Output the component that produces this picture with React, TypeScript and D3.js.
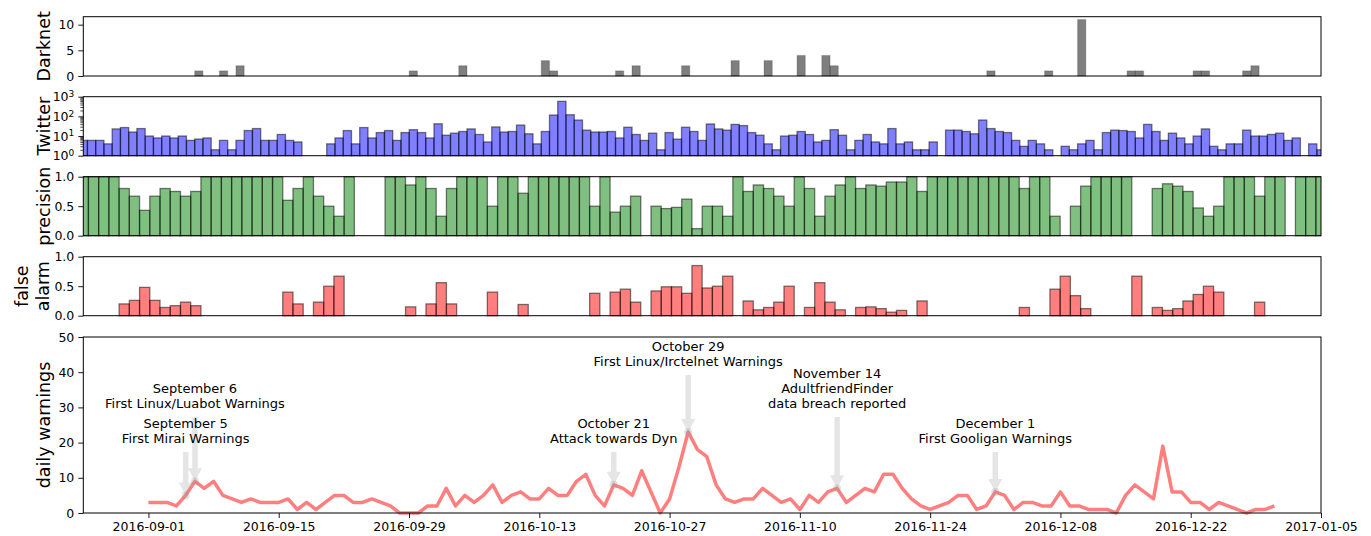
import React, { useEffect, useRef } from "react";
import * as d3 from "d3";

// ---- data ----
// darknet counts, one bar per slot (0..150), null = no bar
const darknet: (number | null)[] = [
  0, 0, 0, 0, 0, 0, 0, 0, 0, 0,
  0, 0, 0, 0, 1, 0, 0, 1, 0, 2,
  0, 0, 0, 0, 0, 0, 0, null, null, null,
  0, 0, 0, 0, 0, 0, 0, 0, 0, 0,
  1, 0, 0, 0, 0, 0, 2, 0, 0, 0,
  0, 0, 0, 0, 0, 0, 3, 1, 0, 0,
  0, 0, 0, 0, 0, 1, 0, 2, 0, 0,
  0, 0, 0, 2, 0, 0, 0, 0, 0, 3,
  0, 0, 0, 3, 0, 0, 0, 4, 0, 0,
  4, 2, 0, 0, 0, 0, 0, 0, 0, 0,
  0, 0, 0, 0, null, 0, 0, 0, 0, 0,
  1, 0, 0, 0, 0, 0, 0, 1, null, 0,
  0, 11, 0, 0, 0, 0, 0, 1, 1, 0,
  0, 0, 0, 0, 0, 1, 1, 0, 0, 0,
  0, 1, 2, 0, 0, 0, 0, 0, null, 0,
  0,
];

// twitter mentions (log scale), slots 0..150
const twitter: number[] = [
  6, 6, 6, 4, 23, 27, 16, 24, 10, 8,
  10, 8, 10, 6, 7, 8, 2, 6, 2, 6,
  19, 24, 6, 6, 12, 6, 5, 1, 1, 1,
  4, 8, 19, 4, 27, 8, 15, 19, 6, 15,
  21, 15, 8, 42, 11, 14, 17, 23, 12, 5,
  29, 16, 17, 36, 13, 4, 17, 117, 580, 121,
  65, 20, 16, 16, 17, 8, 28, 12, 6, 14,
  2, 15, 7, 28, 17, 6, 41, 23, 20, 39,
  34, 15, 11, 4, 2, 10, 11, 17, 12, 5,
  6, 21, 11, 2, 6, 12, 5, 4, 24, 4,
  5, 2, 2, 5, 1, 20, 20, 17, 13, 65,
  24, 17, 15, 6, 3, 6, 4, 2, 1, 3,
  2, 4, 6, 2, 15, 20, 19, 17, 8, 39,
  17, 6, 14, 8, 4, 10, 23, 3, 2, 4,
  4, 20, 10, 10, 12, 14, 6, 8, 1, 4,
  2,
];

// daily precision, 2016-09-01 .. 2016-12-31
const precision: (number | null)[] = [
  1, 1, 1, 1, 0.8, 0.67, 0.43, 0.67, 0.8, 0.75,
  0.67, 0.75, 1, 1, 1, 1, 1, 1, 1, 1,
  0.6, 0.8, 1, 0.67, 0.5, 0.33, 1, null, null, null,
  1, 1, 0.86, 1, 0.8, 0.33, 0.8, 1, 1, 1,
  0.5, 1, 1, 0.72, 1, 1, 1, 1, 1, 1,
  0.5, 1, 0.4, 0.5, 0.67, null, 0.5, 0.46, 0.48, 0.62,
  0.12, 0.5, 0.5, 0.33, 1, 0.75, 0.86, 0.8, 0.67, 0.5,
  1, 0.8, 0.33, 0.67, 0.86, 1, 0.8, 0.86, 0.84, 0.91,
  0.91, 1, 0.75, 1, 1, 1, 1, 1, 1, 1,
  1, 1, 0.8, 1, 1, 0.33, null, 0.5, 0.84, 1,
  1, 1, 1, null, null, 0.8, 0.88, 0.84, 0.75, 0.47,
  0.33, 0.5, 1, 1, 1, 0.67, 1, 1, null, 1,
  1, 1,
];

// daily false alarm rate, 2016-09-01 .. 2016-12-31
const falseAlarm: (number | null)[] = [
  null, null, null, null, 0.2, 0.26, 0.48, 0.26, 0.14, 0.17,
  0.23, 0.17, null, null, null, null, null, null, null, null,
  0.4, 0.2, null, 0.23, 0.5, 0.67, null, null, null, null,
  null, null, 0.15, null, 0.2, 0.56, 0.2, null, null, null,
  0.4, null, null, 0.19, null, null, null, null, null, null,
  0.38, null, 0.4, 0.45, 0.23, null, 0.42, 0.49, 0.49, 0.38,
  0.85, 0.47, 0.5, 0.67, null, 0.25, 0.1, 0.14, 0.23, 0.5,
  null, 0.14, 0.56, 0.23, 0.1, null, 0.14, 0.15, 0.12, 0.06,
  0.09, null, 0.25, null, null, null, null, null, null, null,
  null, null, 0.14, null, null, 0.45, 0.67, 0.34, 0.12, null,
  null, null, null, 0.67, null, 0.14, 0.09, 0.12, 0.25, 0.36,
  0.5, 0.4, null, null, null, 0.23, null, null, null, null,
  null, null,
];

// daily warnings, 2016-09-01 .. 2016-12-31
const dailyWarnings: number[] = [
  3, 3, 3, 2, 5, 9, 7, 9, 5, 4,
  3, 4, 3, 3, 3, 4, 1, 3, 1, 3,
  5, 5, 3, 3, 4, 3, 2, 0, 0, 0,
  2, 2, 7, 2, 5, 3, 5, 8, 3, 5,
  6, 4, 4, 7, 5, 5, 9, 11, 5, 2,
  8, 7, 5, 12, 6, 0, 4, 13, 23, 18,
  16, 8, 4, 3, 4, 4, 7, 5, 3, 4,
  1, 5, 3, 6, 7, 3, 5, 7, 6, 11,
  11, 7, 4, 2, 1, 2, 3, 5, 5, 1,
  2, 6, 5, 1, 3, 3, 2, 2, 6, 2,
  2, 1, 1, 1, 0, 5, 8, 6, 4, 19,
  6, 6, 3, 3, 1, 3, 2, 1, 0, 1,
  1, 2,
];

const firstDay = "2016-09-01";
const dateRange = ["2016-08-25", "2017-01-05"];
const dateTicks = [
  "2016-09-01", "2016-09-15", "2016-09-29", "2016-10-13", "2016-10-27",
  "2016-11-10", "2016-11-24", "2016-12-08", "2016-12-22", "2017-01-05",
];

const events = [
  { date: "2016-09-06", lines: ["September 6", "First Linux/Luabot Warnings"] },
  { date: "2016-09-05", lines: ["September 5", "First Mirai Warnings"] },
  { date: "2016-10-21", lines: ["October 21", "Attack towards Dyn"] },
  { date: "2016-10-29", lines: ["October 29", "First Linux/Irctelnet Warnings"] },
  { date: "2016-11-14", lines: ["November 14", "AdultfriendFinder", "data breach reported"] },
  { date: "2016-12-01", lines: ["December 1", "First Gooligan Warnings"] },
];

// ---- layout ----
const FONT = "'DejaVu Sans', sans-serif";
const left = 83.3;
const right = 1321;
const panels = {
  darknet: [16.7, 76],
  twitter: [96.7, 155.7],
  precision: [176.7, 235.7],
  falseAlarm: [256.7, 315.7],
  warnings: [337, 513],
};
// first baseline of each annotation, same order as events
const eventTextY = [392.5, 427.5, 427.5, 350.5, 377.5, 427.5];

const parse = d3.utcParse("%Y-%m-%d");

function frame(svg, [top, bottom]) {
  svg.append("rect")
    .attr("x", left).attr("y", top)
    .attr("width", right - left).attr("height", bottom - top)
    .attr("fill", "none").attr("stroke", "#000").attr("stroke-width", 1);
}

function styleAxis(g) {
  g.select(".domain").remove();
  g.selectAll("line").attr("stroke", "#000").attr("stroke-width", 0.9);
  g.selectAll("text").attr("font-family", FONT).attr("font-size", 12.5).attr("fill", "#000");
}

function yAxis(svg, scale, ticks, fmt) {
  const g = svg.append("g")
    .attr("transform", `translate(${left},0)`)
    .call(d3.axisLeft(scale).tickValues(ticks).tickSize(5).tickPadding(4).tickFormat(fmt));
  styleAxis(g);
  return g;
}

function ylabel(svg, lines, xs, cy) {
  lines.forEach((t, i) => {
    svg.append("text")
      .attr("transform", `translate(${xs[i]},${cy}) rotate(-90)`)
      .attr("text-anchor", "middle")
      .attr("font-family", FONT).attr("font-size", 17.5)
      .text(t);
  });
}

function bars(svg, id, data, slots, y, base, fill, stroke, strokeOpacity, [top, bottom]) {
  const x = d3.scaleLinear().domain([0, slots]).range([left, right]);
  const w = x(1) - x(0);
  svg.append("clipPath").attr("id", id)
    .append("rect").attr("x", left).attr("y", top - 2)
    .attr("width", right - left).attr("height", bottom - top + 4);

  svg.append("g").attr("clip-path", `url(#${id})`)
    .selectAll("rect")
    .data(data.map((v, i) => ({ v, i })).filter((d) => d.v !== null && d.v > base))
    .join("rect")
    .attr("x", (d) => x(d.i) - w / 2)
    .attr("width", w)
    .attr("y", (d) => y(d.v))
    .attr("height", (d) => y(base) - y(d.v))
    .attr("fill", fill).attr("fill-opacity", 0.5)
    .attr("stroke", stroke).attr("stroke-opacity", strokeOpacity)
    .attr("stroke-width", 1.3);
}

function draw(svg) {
  // Darknet
  const yDark = d3.scaleLinear().domain([0, 11.55]).range([panels.darknet[1], panels.darknet[0]]);
  bars(svg, "clip-dark", darknet, darknet.length - 1, yDark, 0, "#000", "#000", 0.15, panels.darknet);
  frame(svg, panels.darknet);
  yAxis(svg, yDark, [0, 5, 10], d3.format("d"));
  ylabel(svg, ["Darknet"], [50], (panels.darknet[0] + panels.darknet[1]) / 2);

  // Twitter (log)
  const yTw = d3.scaleLog().domain([1, 1000]).range([panels.twitter[1], panels.twitter[0]]);
  bars(svg, "clip-tw", twitter, twitter.length - 1, yTw, 1, "#0000ff", "#000", 0.5, panels.twitter);
  frame(svg, panels.twitter);
  const minor: number[] = [];
  [1, 10, 100].forEach((p) => d3.range(2, 10).forEach((m) => minor.push(p * m)));
  const gm = svg.append("g")
    .attr("transform", `translate(${left},0)`)
    .call(d3.axisLeft(yTw).tickValues(minor).tickSize(3).tickFormat(() => ""));
  styleAxis(gm);
  gm.selectAll("line").attr("stroke-width", 0.7);
  const gt = yAxis(svg, yTw, [1, 10, 100, 1000], () => "");
  gt.selectAll("text").each(function (d) {
    const t = d3.select(this);
    t.append("tspan").text("10");
    t.append("tspan").attr("dy", "-0.45em").attr("font-size", 9).text(String(Math.round(Math.log10(d))));
  });
  ylabel(svg, ["Twitter"], [50], (panels.twitter[0] + panels.twitter[1]) / 2);

  // precision
  const yPr = d3.scaleLinear().domain([0, 1]).range([panels.precision[1], panels.precision[0]]);
  bars(svg, "clip-pr", precision, precision.length - 1, yPr, 0, "#008000", "#000", 0.5, panels.precision);
  frame(svg, panels.precision);
  yAxis(svg, yPr, [0, 0.5, 1], d3.format(".1f"));
  ylabel(svg, ["precision"], [50], (panels.precision[0] + panels.precision[1]) / 2);

  // false alarm
  const yFa = d3.scaleLinear().domain([0, 1]).range([panels.falseAlarm[1], panels.falseAlarm[0]]);
  bars(svg, "clip-fa", falseAlarm, falseAlarm.length - 1, yFa, 0, "#ff0000", "#000", 0.5, panels.falseAlarm);
  frame(svg, panels.falseAlarm);
  yAxis(svg, yFa, [0, 0.5, 1], d3.format(".1f"));
  ylabel(svg, ["false", "alarm"], [28, 49], (panels.falseAlarm[0] + panels.falseAlarm[1]) / 2);

  // daily warnings
  const x = d3.scaleUtc().domain(dateRange.map(parse)).range([left, right]);
  const y = d3.scaleLinear().domain([0, 50]).range([panels.warnings[1], panels.warnings[0]]);
  const start = parse(firstDay);
  const days = dailyWarnings.map((_, i) => d3.utcDay.offset(start, i));

  const line = d3.line<number>()
    .x((_, i) => x(days[i]))
    .y((d) => y(d));
  svg.append("path")
    .attr("d", line(dailyWarnings))
    .attr("fill", "none")
    .attr("stroke", "#ff0000").attr("stroke-opacity", 0.5)
    .attr("stroke-width", 3.5)
    .attr("stroke-linejoin", "round");

  frame(svg, panels.warnings);
  yAxis(svg, y, [0, 10, 20, 30, 40, 50], d3.format("d"));
  const gx = svg.append("g")
    .attr("transform", `translate(0,${panels.warnings[1]})`)
    .call(d3.axisBottom(x).tickValues(dateTicks.map(parse)).tickSize(5).tickPadding(4)
      .tickFormat(d3.utcFormat("%Y-%m-%d")));
  styleAxis(gx);
  ylabel(svg, ["daily warnings"], [50], (panels.warnings[0] + panels.warnings[1]) / 2);

  // annotations: arrows first, then text on top
  const lineGap = 15;
  events.forEach((ev, k) => {
    const d = parse(ev.date);
    const idx = d3.utcDay.count(start, d);
    const ax = x(d);
    const tipY = y(dailyWarnings[idx]);
    const startY = eventTextY[k] + (ev.lines.length - 1) * lineGap + 9.5;
    const hl = 13, hw = 7, sw = 2.75;
    const pts = [
      [ax - sw, startY], [ax + sw, startY], [ax + sw, tipY - hl], [ax + hw, tipY - hl],
      [ax, tipY], [ax - hw, tipY - hl], [ax - sw, tipY - hl],
    ];
    svg.append("polygon")
      .attr("points", pts.map((p) => p.join(",")).join(" "))
      .attr("fill", "#999").attr("fill-opacity", 0.25);
    svg.append("circle")
      .attr("cx", ax).attr("cy", tipY).attr("r", 4)
      .attr("fill", "#999").attr("fill-opacity", 0.3);
  });
  events.forEach((ev, k) => {
    const ax = x(parse(ev.date));
    ev.lines.forEach((t, j) => {
      svg.append("text")
        .attr("x", ax).attr("y", eventTextY[k] + j * lineGap)
        .attr("text-anchor", "middle")
        .attr("font-family", FONT).attr("font-size", 13)
        .text(t);
    });
  });
}

export default function App() {
  const ref = useRef<SVGSVGElement>(null);

  useEffect(() => {
    const svg = d3.select(ref.current);
    svg.selectAll("*").remove();
    draw(svg);
  }, []);

  return (
    <svg
      ref={ref}
      width={1371}
      height={536}
      style={{ position: "absolute", left: 0, top: 0, background: "#fff" }}
    />
  );
}
